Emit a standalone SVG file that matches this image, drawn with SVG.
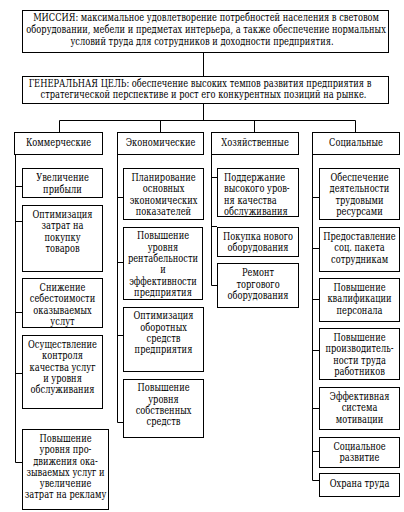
<svg xmlns="http://www.w3.org/2000/svg" width="404" height="512" viewBox="0 0 404 512">
<style>
rect{fill:#fff;stroke:#000;stroke-width:1}
line,path{stroke:#000;stroke-width:1;fill:none}
text{font-family:'DejaVu Serif',serif;font-size:10.5px;fill:#000;text-anchor:middle;transform-box:fill-box;transform-origin:center;transform:scaleX(0.79)}
.l{text-anchor:start;transform-origin:left center}
</style>
<rect width="404" height="512" style="stroke:none"/>
<g id="connectors">
<line x1="203.5" y1="52" x2="203.5" y2="76"/>
<line x1="203.5" y1="103" x2="203.5" y2="120.5"/>
<path d="M59.5 132V120.5H355.5V132M160.5 120.5V132M254.5 120.5V132"/>
<path d="M15.5 154V462.5H22M15.5 186.5H22M15.5 221.5H22M15.5 312.5H22M15.5 373.5H22"/>
<path d="M117.5 154V422.5H123M117.5 197.5H123M117.5 262.5H123M117.5 335.5H123"/>
<path d="M211.5 154V285.5H217M211.5 177.5H217M211.5 226.5H217"/>
<path d="M312.5 154V480.5H319M312.5 197.5H319M312.5 248.5H319M312.5 299.5H319M312.5 350.5H319M312.5 408.5H319M312.5 451.5H319"/>
</g>
<g id="mission">
<rect x="22.5" y="10.5" width="366" height="42"/>
<text x="206" y="21">МИССИЯ: максимальное удовлетворение потребностей населения в световом</text>
<text x="206" y="33">оборудовании, мебели и предметах интерьера, а также обеспечение нормальных</text>
<text x="202" y="45">условий труда для сотрудников и доходности предприятия.</text>
</g>
<g id="goal">
<rect x="22.5" y="76.5" width="366" height="27"/>
<text x="200" y="87">ГЕНЕРАЛЬНАЯ ЦЕЛЬ: обеспечение высоких темпов развития предприятия в</text>
<text x="203.5" y="98.5">стратегической перспективе и рост его конкурентных позиций на рынке.</text>
</g>
<g id="h-comm"><rect x="14.5" y="132.5" width="88" height="22"/><text x="58.5" y="146.5">Коммерческие</text></g>
<g id="h-econ"><rect x="117.5" y="132.5" width="86" height="22"/><text x="160.5" y="146.5">Экономические</text></g>
<g id="h-khoz"><rect x="211.5" y="132.5" width="87" height="22"/><text x="255" y="146.5">Хозяйственные</text></g>
<g id="h-soc"><rect x="312.5" y="132.5" width="87" height="22"/><text x="356" y="146.5">Социальные</text></g>

<g id="c1"><rect x="22.5" y="168.5" width="80" height="29"/><text x="62.5" y="181.5">Увеличение</text><text x="62.5" y="193">прибыли</text></g>
<g id="c2"><rect x="22.5" y="205.5" width="80" height="66"/><text x="62.5" y="218">Оптимизация</text><text x="62.5" y="229.3">затрат на</text><text x="62.5" y="240.6">покупку</text><text x="62.5" y="251.9">товаров</text></g>
<g id="c3"><rect x="22.5" y="278.5" width="80" height="49"/><text x="62.5" y="291">Снижение</text><text x="62.5" y="302.3">себестоимости</text><text x="62.5" y="313.6">оказываемых</text><text x="62.5" y="324.9">услут</text></g>
<g id="c4"><rect x="22.5" y="335.5" width="80" height="73"/><text x="62.5" y="348">Осуществление</text><text x="62.5" y="359.3">контроля</text><text x="62.5" y="370.6">качества услуг</text><text x="62.5" y="381.9">и уровня</text><text x="62.5" y="393.2">обслуживания</text></g>
<g id="c5"><rect x="22.5" y="429.5" width="86" height="80"/><text x="65.5" y="442">Повышение</text><text x="65.5" y="453.3">уровня про-</text><text x="65.5" y="464.6">движения ока-</text><text x="65.5" y="475.9">зываемых услуг и</text><text x="65.5" y="487.2">увеличение</text><text x="65.5" y="498.5">затрат на рекламу</text></g>

<g id="e1"><rect x="123.5" y="168.5" width="80" height="51"/><text x="163.5" y="181">Планирование</text><text x="163.5" y="192.3">основных</text><text x="163.5" y="203.6">экономических</text><text x="163.5" y="214.9">показателей</text></g>
<g id="e2"><rect x="123.5" y="227.5" width="79" height="72"/><text x="163" y="239.5">Повышение</text><text x="163" y="250.8">уровня</text><text x="163" y="262.1">рентабельности</text><text x="163" y="273.4">и</text><text x="163" y="284.7">эффективности</text><text x="163" y="296">предприятия</text></g>
<g id="e3"><rect x="123.5" y="307.5" width="80" height="64"/><text x="163.5" y="319.5">Оптимизация</text><text x="163.5" y="330.8">оборотных</text><text x="163.5" y="342.1">средств</text><text x="163.5" y="353.4">предприятия</text></g>
<g id="e4"><rect x="123.5" y="379.5" width="80" height="58"/><text x="163.5" y="391.5">Повышение</text><text x="163.5" y="402.8">уровня</text><text x="163.5" y="414.1">собственных</text><text x="163.5" y="425.4">средств</text></g>

<g id="k1"><rect x="217.5" y="168.5" width="81" height="48"/><text class="l" x="224" y="181">Поддержание</text><text class="l" x="224" y="192.3">высокого уров-</text><text class="l" x="224" y="203.6">ня качества</text><text class="l" x="224" y="214.9">обслуживания</text></g>
<g id="k2"><rect x="217.5" y="227.5" width="81" height="29"/><text x="258" y="240">Покупка нового</text><text x="258" y="251.3">оборудования</text></g>
<g id="k3"><rect x="217.5" y="263.5" width="81" height="44"/><text x="258" y="276.5">Ремонт</text><text x="258" y="287.8">торгового</text><text x="258" y="299.1">оборудования</text></g>

<g id="s1"><rect x="319.5" y="168.5" width="80" height="51"/><text x="359.5" y="181">Обеспечение</text><text x="359.5" y="192.3">деятельности</text><text x="359.5" y="203.6">трудовыми</text><text x="359.5" y="214.9">ресурсами</text></g>
<g id="s2"><rect x="319.5" y="227.5" width="80" height="44"/><text x="359.5" y="240">Предоставление</text><text x="359.5" y="251.3">соц. пакета</text><text x="359.5" y="262.6">сотрудникам</text></g>
<g id="s3"><rect x="319.5" y="278.5" width="80" height="43"/><text x="359.5" y="291">Повышение</text><text x="359.5" y="302.3">квалификации</text><text x="359.5" y="313.6">персонала</text></g>
<g id="s4"><rect x="319.5" y="328.5" width="80" height="51"/><text x="359.5" y="341">Повышение</text><text x="359.5" y="352.3">производитель-</text><text x="359.5" y="363.6">ности труда</text><text x="359.5" y="374.9">работников</text></g>
<g id="s5"><rect x="319.5" y="387.5" width="80" height="42"/><text x="359.5" y="400">Эффективная</text><text x="359.5" y="411.3">система</text><text x="359.5" y="422.6">мотивации</text></g>
<g id="s6"><rect x="319.5" y="437.5" width="80" height="30"/><text x="359.5" y="450">Социальное</text><text x="359.5" y="461.3">развитие</text></g>
<g id="s7"><rect x="319.5" y="473.5" width="80" height="23"/><text x="359.5" y="487">Охрана труда</text></g>
</svg>
